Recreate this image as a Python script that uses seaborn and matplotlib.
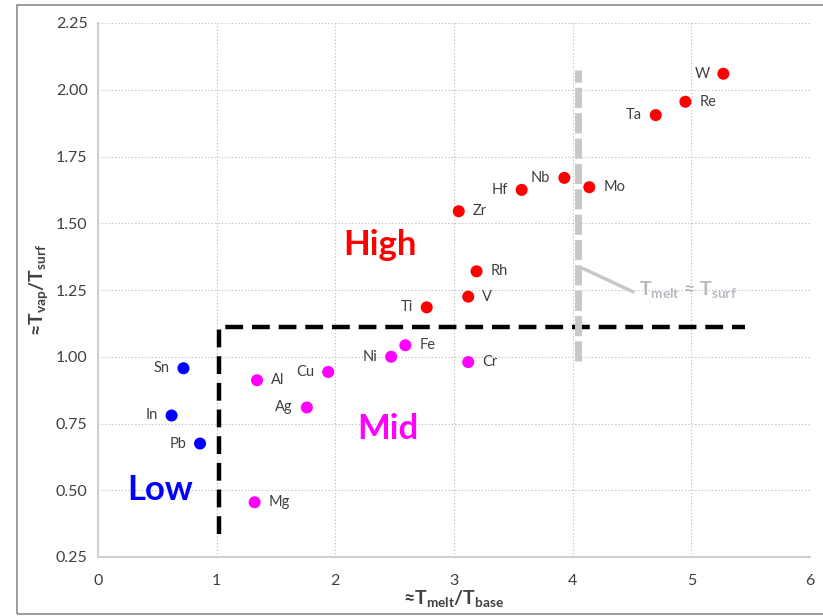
import matplotlib
matplotlib.use("Agg")
import matplotlib.pyplot as plt
import seaborn as sns
import pandas as pd
from matplotlib.patches import Rectangle
from matplotlib.ticker import FormatStrFormatter

# ---- data ----
elements = ["W", "Re", "Ta", "Mo", "Nb", "Hf", "Zr", "Rh", "V", "Ti",
            "Fe", "Ni", "Cr", "Cu", "Al", "Ag", "Mg",
            "Sn", "In", "Pb"]
melt_ratio = [5.27, 4.95, 4.70, 4.14, 3.93, 3.57, 3.04, 3.19, 3.12, 2.77,
              2.59, 2.47, 3.12, 1.94, 1.34, 1.76, 1.32,
              0.72, 0.62, 0.86]
vap_ratio = [2.06, 1.955, 1.905, 1.635, 1.67, 1.625, 1.545, 1.32, 1.225, 1.185,
             1.043, 1.00, 0.98, 0.943, 0.912, 0.81, 0.455,
             0.957, 0.78, 0.675]
group = ["High"] * 10 + ["Mid"] * 7 + ["Low"] * 3
label_side = ["left", "right", "left", "right", "left", "left", "right", "right", "right", "left",
              "right", "left", "right", "left", "right", "left", "right",
              "left", "left", "left"]

x_ticks = [0, 1, 2, 3, 4, 5, 6]
y_ticks = [0.25, 0.50, 0.75, 1.00, 1.25, 1.50, 1.75, 2.00, 2.25]

# boundary lines (data coords)
boundary_x = [1.02, 1.02, 5.45]
boundary_y = [0.335, 1.11, 1.11]
melt_line_x = [4.045, 4.045]
melt_line_y = [0.985, 2.075]

palette = {"High": "#ff0000", "Mid": "#ff00ff", "Low": "#0000ff"}
region_labels = [("High", 2.38, 1.42), ("Mid", 2.44, 0.73), ("Low", 0.52, 0.50)]

df = pd.DataFrame({"el": elements, "x": melt_ratio, "y": vap_ratio,
                   "group": group, "side": label_side})

# ---- style ----
sns.set_style("white")
plt.rcParams["font.family"] = ["Lato", "DejaVu Sans"]
plt.rcParams["mathtext.fontset"] = "custom"
plt.rcParams["mathtext.rm"] = "Lato"
plt.rcParams["mathtext.bf"] = "Lato:bold"
plt.rcParams["mathtext.it"] = "Lato"

fig = plt.figure(figsize=(8.23, 6.16), dpi=100)
ax = fig.add_axes([98 / 823, 1 - 557 / 616, (810 - 98) / 823, (557 - 23) / 616])

# outer frame
fig.patches.append(Rectangle((17 / 823, 1 - 614 / 616), 1.0, (614 - 5) / 616,
                             transform=fig.transFigure, fill=False,
                             edgecolor="#8c8c8c", linewidth=1.2))

ax.set_xlim(0, 6)
ax.set_ylim(0.25, 2.25)
ax.set_xticks(x_ticks)
ax.set_yticks(y_ticks)
ax.yaxis.set_major_formatter(FormatStrFormatter("%.2f"))
ax.grid(True, linestyle=(0, (1, 2)), color="#b8b8b8", linewidth=0.8)
for s in ["top", "right"]:
    ax.spines[s].set_visible(False)
for s in ["left", "bottom"]:
    ax.spines[s].set_color("#d0d0d0")
    ax.spines[s].set_linewidth(1.5)
ax.tick_params(axis="both", which="major", length=4, color="#c0c0c0",
               labelsize=11.5, labelcolor="#404040", direction="out")
ax.tick_params(axis="x", pad=8)

# boundaries
ax.plot(boundary_x, boundary_y, color="black", linewidth=3.2,
        dashes=(4, 2), solid_capstyle="butt", dash_capstyle="butt", zorder=2)
ax.plot(melt_line_x, melt_line_y, color="#c8c8c8", linewidth=5,
        dashes=(2.9, 0.75), dash_capstyle="butt", zorder=2)
ax.plot([4.09, 4.51], [1.33, 1.243], color="#c8c8c8", linewidth=2.5, zorder=2)
ax.text(4.56, 1.25, r"T$_{\mathbf{melt}}$ ≈ T$_{\mathbf{surf}}$", color="#b8b8c0",
        fontsize=14, fontweight="bold", va="center", ha="left")

sns.scatterplot(data=df, x="x", y="y", hue="group", palette=palette, s=75,
                edgecolor="none", legend=False, ax=ax, zorder=3)

for _, r in df.iterrows():
    off = 10 if r["side"] == "right" else -10
    ax.annotate(r["el"], (r["x"], r["y"]), xytext=(off, 0), textcoords="offset points",
                ha="left" if off > 0 else "right", va="center",
                fontsize=10.5, color="#404040")

for name, tx, ty in region_labels:
    ax.text(tx, ty, name, color=palette[name], fontsize=25, fontweight="bold",
            ha="center", va="center")

ax.set_xlabel(r"≈T$_{\mathbf{melt}}$/T$_{\mathbf{base}}$", fontsize=14, color="#404040",
              fontweight="bold", labelpad=0)
ax.set_ylabel(r"≈T$_{\mathbf{vap}}$/T$_{\mathbf{surf}}$", fontsize=14, color="#404040",
              fontweight="bold", labelpad=4)

fig.savefig("out.png", dpi=100)
